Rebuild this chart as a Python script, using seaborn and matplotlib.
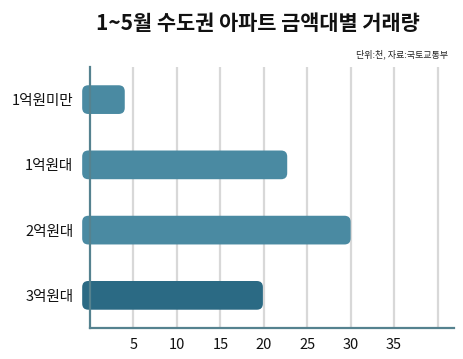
import matplotlib
matplotlib.use("Agg")
import matplotlib.pyplot as plt
import seaborn as sns
import pandas as pd
from matplotlib.patches import FancyBboxPatch

# 데이터 (단위: 천 건)
categories = ["1억원미만", "1억원대", "2억원대", "3억원대"]
volumes = [4.0, 22.7, 30.0, 19.9]
bar_colors = ["#4a8aa2", "#4a8aa2", "#4a8aa2", "#2b6a84"]
x_ticks = [5, 10, 15, 20, 25, 30, 35, 40]
x_tick_labels = ["5", "10", "15", "20", "25", "30", "35", ""]

sns.set_theme(style="white")
plt.rcParams['font.family'] = ['Noto Sans CJK KR', 'DejaVu Sans']

df = pd.DataFrame({"구간": categories, "거래량": volumes})

fig = plt.figure(figsize=(4.63, 3.59), dpi=100)
ax = fig.add_axes([0.1944, 0.0864, 0.7862, 0.727])

sns.barplot(data=df, x="거래량", y="구간", hue="구간", palette=bar_colors,
            legend=False, width=0.44, ax=ax, saturation=1)

ax.set_xlim(0, 41.9)
ax.set_ylim(3.5, -0.5)

# 막대를 둥근 모서리로 교체 (축선 왼쪽으로 살짝 튀어나옴)
ext_left = 0.9
rounding = 0.7
# x 1단위 ≈ 8.7px, y 1단위 ≈ 65px -> 모서리가 원형이 되도록 보정
aspect = (4.0 / 261) / (41.9 / 364)
for p in list(ax.patches):
    x0, y0 = p.get_x(), p.get_y()
    w, h = p.get_width(), p.get_height()
    fb = FancyBboxPatch((x0 - ext_left, y0), w + ext_left, h,
                        boxstyle=f"round,pad=0,rounding_size={rounding}",
                        mutation_aspect=aspect,
                        facecolor=p.get_facecolor(), edgecolor="none",
                        clip_on=False, zorder=3)
    p.remove()
    ax.add_patch(fb)

# 그리드
for t in x_ticks:
    ax.axvline(t, color="#d8d8d8", lw=1.6, zorder=1)

ax.set_xticks(x_ticks)
ax.set_xticklabels(x_tick_labels, fontsize=10.5, color="#111111")
ax.tick_params(axis="x", length=0, pad=7)
ax.tick_params(axis="y", length=0, pad=12, labelsize=10.5, labelcolor="#111111")
ax.set_xlabel("")
ax.set_ylabel("")

for side in ["top", "right"]:
    ax.spines[side].set_visible(False)
for side in ["left", "bottom"]:
    ax.spines[side].set_color("#55828f")
    ax.spines[side].set_linewidth(1.6)
    ax.spines[side].set_zorder(4)

fig.text(0.557, 0.935, "1~5월 수도권 아파트 금액대별 거래량", ha="center", va="center",
         fontsize=15, fontweight="bold", color="#111111")
fig.text(0.968, 0.847, "단위:천, 자료:국토교통부", ha="right", va="center",
         fontsize=6.5, color="#222222")

fig.savefig("out.png", dpi=100)
